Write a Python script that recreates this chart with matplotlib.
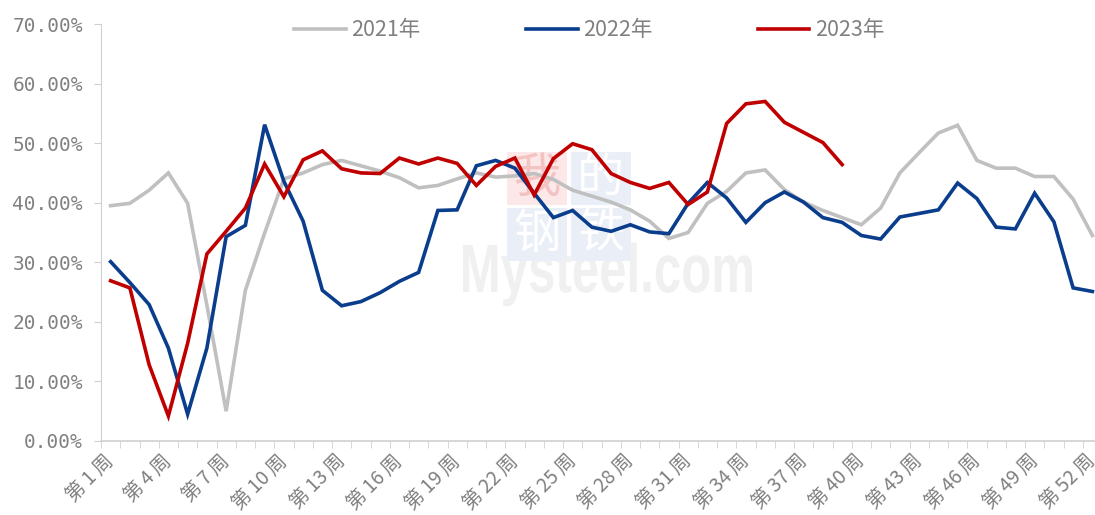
import matplotlib
matplotlib.use("Agg")
import matplotlib.pyplot as plt
from matplotlib.ticker import FixedLocator, FuncFormatter
from matplotlib.textpath import TextPath
from matplotlib.patches import PathPatch, Rectangle
from matplotlib.font_manager import FontProperties
from matplotlib.transforms import Affine2D, ScaledTranslation

plt.rcParams["font.family"] = ["Noto Sans CJK SC", "DejaVu Sans"]

# ───────────── данные, доли в процентах ─────────────
weeks = [f"第{i}周" for i in range(1, 53)]

y2021 = [39.5, 39.9, 42.1, 45.0, 39.9, 22.8, 5.0, 25.3, 34.9, 44.0,
         45.0, 46.4, 47.1, 46.2, 45.3, 44.2, 42.5, 42.9, 44.0, 45.0,
         44.3, 44.5, 44.9, 43.9, 42.1, 41.1, 40.1, 38.8, 36.9, 34.0,
         35.0, 39.9, 41.9, 45.0, 45.5, 42.2, 40.1, 38.7, 37.5, 36.3,
         39.1, 45.0, 48.4, 51.7, 53.0, 47.1, 45.8, 45.8, 44.4, 44.4,
         40.6, 34.5]

y2022 = [30.1, 26.6, 22.9, 15.6, 4.5, 15.6, 34.3, 36.2, 53.1, 43.6,
         36.9, 25.3, 22.7, 23.4, 24.9, 26.8, 28.3, 38.7, 38.8, 46.2,
         47.1, 45.8, 41.6, 37.5, 38.7, 35.9, 35.2, 36.3, 35.1, 34.8,
         39.9, 43.4, 40.8, 36.7, 40.0, 41.8, 40.1, 37.5, 36.7, 34.5,
         33.9, 37.6, 38.2, 38.8, 43.3, 40.7, 35.9, 35.6, 41.6, 36.8,
         25.7, 25.1]

y2023 = [26.9, 25.7, 12.8, 4.2, 16.4, 31.4, 35.2, 39.1, 46.5, 41.0,
         47.2, 48.7, 45.7, 45.0, 44.9, 47.5, 46.5, 47.5, 46.6, 42.9,
         46.1, 47.5, 41.3, 47.4, 49.9, 48.9, 44.9, 43.4, 42.4, 43.4,
         39.7, 41.8, 53.3, 56.6, 57.0, 53.5, 51.8, 50.1, 46.4]

series_names = ["2021年", "2022年", "2023年"]
series_colors = ["#c0c0c0", "#0a3d8c", "#c00000"]

# ──────────────────────────────── график ────────────────────────────────
fig = plt.figure(figsize=(10.95, 5.15), dpi=100)
ax = fig.add_axes([101 / 1095, 1 - 441 / 515, 1001 / 1095, 417 / 515])

# ── водяной знак «我的钢铁 Mysteel.com» ──
tp = TextPath((0, 0), "Mysteel.com", size=1,
              prop=FontProperties(family="Liberation Sans", weight="bold"))
ext = tp.get_extents()
sx = (289 / 1001) / ext.width
sy = (49 / 417) / 0.716
tr = Affine2D().translate(-ext.x0, 0).scale(sx, sy).translate(0.3616, 0.357)
ax.add_patch(PathPatch(tp, transform=tr + ax.transAxes, color="#f0f0f0",
                       lw=0, zorder=0))

boxes = [("我", 0.4056, 0.566, "#fce8e8", "#f3c3c3"),
         ("的", 0.4695, 0.566, "#eaeef6", "#ffffff"),
         ("钢", 0.4056, 0.4317, "#eaeef6", "#ffffff"),
         ("铁", 0.4695, 0.4317, "#eaeef6", "#ffffff")]
for ch, bx, by, bc, tc in boxes:
    ax.add_patch(Rectangle((bx, by), 0.06, 0.127, transform=ax.transAxes,
                           color=bc, lw=0, zorder=0))
    ax.text(bx + 0.03, by + 0.0635, ch, transform=ax.transAxes, fontsize=34,
            color=tc, ha="center", va="center", zorder=0.5)

x = list(range(len(weeks)))
for name, vals, col in zip(series_names, [y2021, y2022, y2023], series_colors):
    ax.plot(x[:len(vals)], [v / 100 for v in vals], color=col, linewidth=2.6,
            label=name, solid_joinstyle="miter", zorder=3)

ax.set_xlim(-0.5, len(weeks) - 0.5)
ax.set_ylim(0, 0.7)
ax.set_yticks([i / 10 for i in range(8)])
ax.yaxis.set_major_formatter(FuncFormatter(lambda v, p: f"{v * 100:.2f}%"))
for lab in ax.get_yticklabels():
    lab.set_family("DejaVu Sans Mono")

# подписи недель с небольшими пробелами между знаками, как в исходнике
major = list(range(0, len(weeks), 3))
ax.xaxis.set_major_locator(FixedLocator(major))
ax.set_xticklabels(["\u2009".join(["第", weeks[i][1:-1], "周"]) for i in major],
                   rotation=45, ha="right", va="center", rotation_mode="anchor")
shift = ScaledTranslation(9 / 100, 0, fig.dpi_scale_trans)
for lab in ax.get_xticklabels():
    lab.set_transform(lab.get_transform() + shift)
ax.xaxis.set_minor_locator(FixedLocator([i - 0.5 for i in range(len(weeks) + 1)]))
ax.tick_params(axis="x", which="major", length=0, pad=12, labelsize=14,
               labelcolor="#808080")
ax.tick_params(axis="x", which="minor", length=5, color="#d0d0d0")
ax.tick_params(axis="y", length=5, color="#d0d0d0", labelsize=14,
               labelcolor="#808080", pad=8)

for s in ["top", "right"]:
    ax.spines[s].set_visible(False)
ax.spines["left"].set_color("#d0d0d0")
ax.spines["bottom"].set_color("#d0d0d0")
ax.spines["bottom"].set_linewidth(1.2)

fig.legend(loc="upper center", bbox_to_anchor=(0.538, 0.992), ncol=3,
           frameon=False, fontsize=15.5, handlelength=2.4, columnspacing=4.9,
           handletextpad=0.25, labelcolor="#808080", borderaxespad=0.3)

plt.savefig("out.png", dpi=100)
plt.close()
